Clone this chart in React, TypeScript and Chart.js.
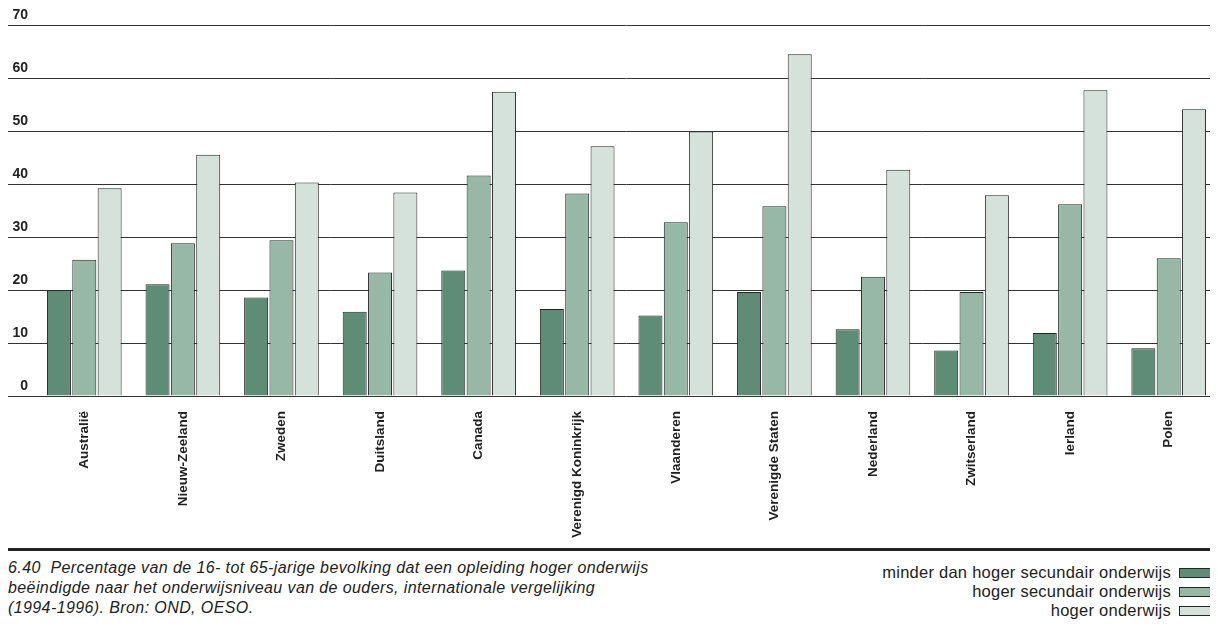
import React, { useEffect, useRef } from 'react';
import Chart from 'chart.js/auto';

const categories = [
  'Australië',
  'Nieuw-Zeeland',
  'Zweden',
  'Duitsland',
  'Canada',
  'Verenigd Koninkrijk',
  'Vlaanderen',
  'Verenigde Staten',
  'Nederland',
  'Zwitserland',
  'Ierland',
  'Polen',
];
const belowUpperSecondary = [20.0, 21.1, 18.6, 15.9, 23.7, 16.4, 15.2, 19.6, 12.6, 8.6, 11.9, 9.0];
const upperSecondary = [25.7, 28.8, 29.4, 23.3, 41.6, 38.2, 32.8, 35.8, 22.5, 19.6, 36.2, 26.0];
const tertiary = [39.2, 45.5, 40.3, 38.4, 57.4, 47.1, 49.9, 64.5, 42.7, 37.9, 57.7, 54.1];
const seriesNames = [
  'minder dan hoger secundair onderwijs',
  'hoger secundair onderwijs',
  'hoger onderwijs',
];
const seriesColors = ['#5e8c77', '#97b7a7', '#d5e2dc'];
const yMin = 0;
const yMax = 70;
const yStep = 10;
const captionLines = [
  '6.40  Percentage van de 16- tot 65-jarige bevolking dat een opleiding hoger onderwijs',
  'beëindigde naar het onderwijsniveau van de ouders, internationale vergelijking',
  '(1994-1996). Bron: OND, OESO.',
];

const FONT = '"Liberation Sans", Arial, sans-serif';
const INK = '#222222';

export default function App() {
  const canvasRef = useRef<HTMLCanvasElement | null>(null);

  useEffect(() => {
    const canvas = canvasRef.current;
    if (!canvas) return;
    const values = [belowUpperSecondary, upperSecondary, tertiary];
    const chart = new Chart(canvas, {
      type: 'bar',
      data: {
        labels: categories,
        datasets: values.map((v, i) => ({
          label: seriesNames[i],
          data: v,
          backgroundColor: seriesColors[i],
          borderColor: '#262626',
          borderWidth: 1,
          categoryPercentage: 0.771,
          barPercentage: 0.947,
        })),
      },
      options: {
        animation: false,
        responsive: false,
        devicePixelRatio: 1,
        layout: { padding: { top: 17, left: 0, right: 0, bottom: 0 } },
        plugins: {
          legend: { display: false },
          tooltip: { enabled: false },
        },
        scales: {
          x: {
            grid: { display: false, drawTicks: false },
            border: { display: false },
            ticks: {
              minRotation: 90,
              maxRotation: 90,
              autoSkip: false,
              padding: 15,
              color: INK,
              font: { family: FONT, size: 13.5, weight: 'bold' },
            },
            afterFit: (scale: any) => {
              scale.height = 152;
            },
          },
          y: {
            min: yMin,
            max: yMax,
            border: { display: false },
            grid: {
              color: '#333333',
              lineWidth: 1,
              drawTicks: true,
              tickLength: 27,
            },
            ticks: {
              stepSize: yStep,
              crossAlign: 'near',
              padding: -20,
              labelOffset: -10,
              color: INK,
              font: { family: FONT, size: 14, weight: 'bold' },
            },
            afterFit: (scale: any) => {
              scale.width = 27;
            },
          },
        },
      },
    });
    return () => chart.destroy();
  }, []);

  return (
    <div style={{ width: 1210, fontFamily: FONT, color: INK }}>
      <div style={{ width: 1210, height: 540 }}>
        <canvas ref={canvasRef} width={1210} height={540} style={{ display: 'block' }} />
      </div>
      <div style={{ borderTop: `3px solid ${INK}`, width: 1210 }} />
      <div style={{ display: 'flex', justifyContent: 'space-between', width: 1210 }}>
        <div
          style={{
            fontStyle: 'italic',
            fontSize: 16,
            letterSpacing: '0.4px',
            lineHeight: '20px',
            marginTop: 7,
          }}
        >
          {captionLines.map((l, i) => (
            <div key={i} style={{ whiteSpace: 'pre' }}>{l}</div>
          ))}
        </div>
        <div style={{ marginTop: 12, marginRight: 6, fontSize: 16.5, letterSpacing: '0.25px', lineHeight: '19px' }}>
          {seriesNames.map((n, i) => (
            <div key={i} style={{ display: 'flex', justifyContent: 'flex-end', alignItems: 'center' }}>
              <span style={{ whiteSpace: 'pre' }}>{n}</span>
              <span
                style={{
                  display: 'inline-block',
                  flexShrink: 0,
                  width: 31,
                  height: 8,
                  marginLeft: 8,
                  background: seriesColors[i],
                  border: '1px solid #262626',
                }}
              />
            </div>
          ))}
        </div>
      </div>
    </div>
  );
}
